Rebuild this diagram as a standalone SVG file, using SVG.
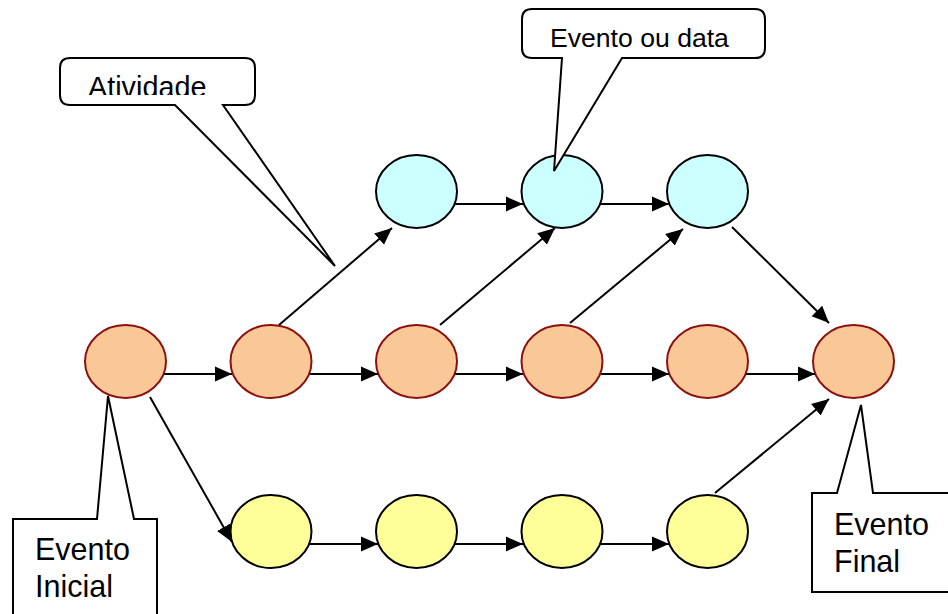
<svg xmlns="http://www.w3.org/2000/svg" width="948" height="614" viewBox="0 0 948 614">
<style>
.o{fill:#F9C896;stroke:#8B1010;stroke-width:2}
.b{fill:#CCFFFF;stroke:#000;stroke-width:2}
.y{fill:#FFFF99;stroke:#000;stroke-width:2}
.c line{stroke:#000;stroke-width:2;marker-end:url(#ah)}
.co{fill:#fff;stroke:#000;stroke-width:2;stroke-linejoin:miter}
text{font-family:"Liberation Sans",Arial,sans-serif;fill:#000}
</style>
<defs>
<marker id="ah" markerUnits="userSpaceOnUse" markerWidth="19" markerHeight="16" refX="17" refY="8" orient="auto">
<path d="M0,0.5 L17,8 L0,15.5 Z" fill="#000"/>
</marker>
<clipPath id="clipA"><rect x="60" y="58" width="195" height="37"/></clipPath>
</defs>
<rect width="948" height="614" fill="#fff"/>
<g id="nodes">
<g id="o1"><ellipse class="o" cx="125.5" cy="361.5" rx="40.5" ry="36.5"/></g>
<g id="o2"><ellipse class="o" cx="271" cy="361.5" rx="40.5" ry="36.5"/></g>
<g id="o3"><ellipse class="o" cx="416.5" cy="361.5" rx="40.5" ry="36.5"/></g>
<g id="o4"><ellipse class="o" cx="562" cy="361.5" rx="40.5" ry="36.5"/></g>
<g id="o5"><ellipse class="o" cx="707.5" cy="361.5" rx="40.5" ry="36.5"/></g>
<g id="o6"><ellipse class="o" cx="853.5" cy="361.5" rx="40.5" ry="36.5"/></g>
<g id="b1"><ellipse class="b" cx="416.5" cy="191.5" rx="40.5" ry="36.5"/></g>
<g id="b2"><ellipse class="b" cx="562" cy="191.5" rx="40.5" ry="36.5"/></g>
<g id="b3"><ellipse class="b" cx="707.5" cy="191.5" rx="40.5" ry="36.5"/></g>
<g id="y1"><ellipse class="y" cx="271" cy="531.5" rx="40.5" ry="36.5"/></g>
<g id="y2"><ellipse class="y" cx="416.5" cy="531.5" rx="40.5" ry="36.5"/></g>
<g id="y3"><ellipse class="y" cx="562" cy="531.5" rx="40.5" ry="36.5"/></g>
<g id="y4"><ellipse class="y" cx="707.5" cy="531.5" rx="40.5" ry="36.5"/></g>
</g>
<g id="connectors" class="c">
<line x1="164" y1="374" x2="232" y2="374"/>
<line x1="310" y1="374" x2="378" y2="374"/>
<line x1="455" y1="374" x2="523" y2="374"/>
<line x1="601" y1="374" x2="669" y2="374"/>
<line x1="746" y1="374" x2="815" y2="374"/>
<line x1="455" y1="204" x2="523" y2="204"/>
<line x1="601" y1="204" x2="669" y2="204"/>
<line x1="310" y1="544" x2="378" y2="544"/>
<line x1="455" y1="544" x2="523" y2="544"/>
<line x1="601" y1="544" x2="669" y2="544"/>
<line x1="279" y1="325" x2="392" y2="228"/>
<line x1="440" y1="325" x2="555" y2="228"/>
<line x1="570" y1="323" x2="683" y2="229"/>
<line x1="732" y1="227" x2="829" y2="323"/>
<line x1="715" y1="493" x2="829" y2="399"/>
<line x1="150" y1="397" x2="232" y2="542"/>
</g>
<g id="callout-atividade">
<path class="co" d="M70,58 H245 Q255,58 255,68 V95 Q255,105 245,105 H223 L335,266 L175,105 H70 Q60,105 60,95 V68 Q60,58 70,58 Z"/>
<text x="88" y="97" font-size="28.8" clip-path="url(#clipA)">Atividade</text>
</g>
<g id="callout-evento-data">
<path class="co" d="M532,9 H755 Q765,9 765,19 V48 Q765,58 755,58 H622 L554,171 L562,58 H532 Q522,58 522,48 V19 Q522,9 532,9 Z"/>
<text x="550" y="47" font-size="26.6">Evento ou data</text>
</g>
<g id="callout-inicial">
<path class="co" d="M13,620 V519 H97 L108,396 L134,519 H157 V620"/>
<text x="35" y="560" font-size="30.5">Evento</text>
<text x="35" y="597" font-size="30.5">Inicial</text>
</g>
<g id="callout-final">
<path class="co" d="M952,493 H873 L861,405 L837,493 H812 V592 H952"/>
<text x="834" y="535" font-size="30.5">Evento</text>
<text x="834" y="572" font-size="30.5">Final</text>
</g>
</svg>
